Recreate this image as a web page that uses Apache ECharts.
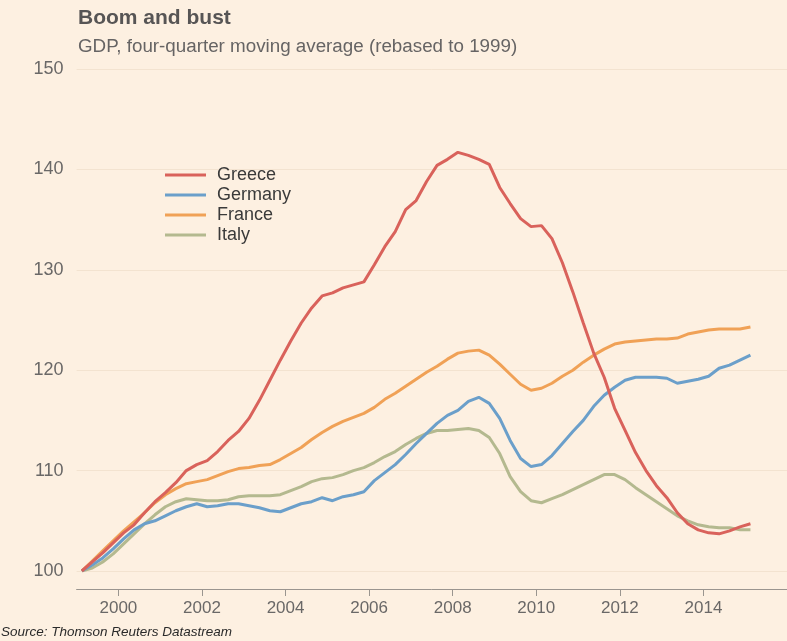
<!DOCTYPE html>
<html>
<head>
<meta charset="utf-8">
<script src="https://cdn.jsdelivr.net/npm/echarts@6/dist/echarts.min.js"></script>
<style>
html,body{margin:0;padding:0;background:#fdf0e1;}
#chart{width:787px;height:641px;}
</style>
</head>
<body>
<div id="chart"></div>
<script>
const quarters = [
 '1999Q1','1999Q2','1999Q3','1999Q4','2000Q1','2000Q2','2000Q3','2000Q4',
 '2001Q1','2001Q2','2001Q3','2001Q4','2002Q1','2002Q2','2002Q3','2002Q4',
 '2003Q1','2003Q2','2003Q3','2003Q4','2004Q1','2004Q2','2004Q3','2004Q4',
 '2005Q1','2005Q2','2005Q3','2005Q4','2006Q1','2006Q2','2006Q3','2006Q4',
 '2007Q1','2007Q2','2007Q3','2007Q4','2008Q1','2008Q2','2008Q3','2008Q4',
 '2009Q1','2009Q2','2009Q3','2009Q4','2010Q1','2010Q2','2010Q3','2010Q4',
 '2011Q1','2011Q2','2011Q3','2011Q4','2012Q1','2012Q2','2012Q3','2012Q4',
 '2013Q1','2013Q2','2013Q3','2013Q4','2014Q1','2014Q2','2014Q3','2014Q4',
 '2015Q1'
];
const greece = [
 100.0,100.9,101.8,102.8,103.8,104.6,105.8,106.9,
 107.8,108.8,110.0,110.6,111.0,111.9,113.0,113.9,
 115.2,117.0,119.0,121.0,122.9,124.7,126.2,127.4,
 127.7,128.2,128.5,128.8,130.5,132.3,133.8,136.0,
 136.9,138.8,140.4,141.0,141.7,141.4,141.0,140.5,
 138.2,136.6,135.1,134.3,134.4,133.1,130.7,127.8,
 124.7,121.7,119.3,116.2,114.0,111.8,110.0,108.5,
 107.3,105.8,104.7,104.1,103.8,103.7,104.0,104.4,
 104.7
];
const germany = [
 100.0,100.6,101.3,102.2,103.2,104.1,104.7,105.0,
 105.5,106.0,106.4,106.7,106.4,106.5,106.7,106.7,
 106.5,106.3,106.0,105.9,106.3,106.7,106.9,107.3,
 107.0,107.4,107.6,107.9,109.0,109.8,110.6,111.6,
 112.7,113.7,114.7,115.5,116.0,116.9,117.3,116.7,
 115.2,113.0,111.2,110.4,110.6,111.5,112.7,113.9,
 115.0,116.4,117.5,118.3,119.0,119.3,119.3,119.3,
 119.2,118.7,118.9,119.1,119.4,120.2,120.5,121.0,
 121.5
];
const france = [
 100.0,101.0,102.0,103.0,104.0,104.9,105.8,106.8,
 107.6,108.2,108.7,108.9,109.1,109.5,109.9,110.2,
 110.3,110.5,110.6,111.1,111.7,112.3,113.1,113.8,
 114.4,114.9,115.3,115.7,116.3,117.1,117.7,118.4,
 119.1,119.8,120.4,121.1,121.7,121.9,122.0,121.5,
 120.6,119.6,118.6,118.0,118.2,118.7,119.4,120.0,
 120.8,121.5,122.1,122.6,122.8,122.9,123.0,123.1,
 123.1,123.2,123.6,123.8,124.0,124.1,124.1,124.1,
 124.3
];
const italy = [
 100.0,100.3,100.9,101.7,102.7,103.7,104.7,105.6,
 106.4,106.9,107.2,107.1,107.0,107.0,107.1,107.4,
 107.5,107.5,107.5,107.6,108.0,108.4,108.9,109.2,
 109.3,109.6,110.0,110.3,110.8,111.4,111.9,112.6,
 113.2,113.7,114.0,114.0,114.1,114.2,114.0,113.3,
 111.7,109.4,107.9,107.0,106.8,107.2,107.6,108.1,
 108.6,109.1,109.6,109.6,109.1,108.3,107.6,106.9,
 106.2,105.5,105.0,104.6,104.4,104.3,104.3,104.1,
 104.1
];
const seriesNames = ['Greece','Germany','France','Italy'];
const seriesData = [greece, germany, france, italy];
const seriesColors = ['#d9625b','#6b9fca','#f0a156','#b4b98f'];
const xTickYears = [2000,2002,2004,2006,2008,2010,2012,2014];

function qToX(q){
  const y = parseInt(q.slice(0,4),10);
  const n = parseInt(q.slice(5),10);
  return y + (n-1)/4 + 0.125;
}

const chart = echarts.init(document.getElementById('chart'), null, {renderer:'canvas'});
const FONT = '"Liberation Sans", Arial, sans-serif';

chart.setOption({
  backgroundColor:'#fdf0e1',
  animation:false,
  title:[
    {text:'Boom and bust', left:73, top:3,
     textStyle:{fontFamily:FONT, fontSize:21, fontWeight:'bold', color:'#575555'}},
    {text:'GDP, four-quarter moving average (rebased to 1999)', left:73, top:32,
     textStyle:{fontFamily:FONT, fontSize:18.8, fontWeight:'normal', color:'#666464'}},
    {text:'Source: Thomson Reuters Datastream', left:-4, top:620,
     textStyle:{fontFamily:FONT, fontSize:13.5, fontStyle:'italic', fontWeight:'normal', color:'#2a2a2a'}}
  ],
  legend:{
    orient:'vertical', left:160, top:161, itemWidth:41, itemHeight:3, itemGap:2,
    icon:'rect',
    textStyle:{fontFamily:FONT, fontSize:18, color:'#3a3a3a', padding:[0,0,0,6]},
    data:seriesNames
  },
  grid:{left:76.6, right:0, top:69, bottom:70, containLabel:false},
  xAxis:{
    type:'value', min:1999, max:2016, offset:18,
    axisLine:{show:true, lineStyle:{color:'#9a958f', width:1}},
    axisTick:{show:true, length:7, lineStyle:{color:'#9a958f'}, customValues:xTickYears},
    axisLabel:{customValues:xTickYears, fontFamily:FONT, fontSize:17, color:'#6a6867', margin:11,
      formatter:v=>String(v)},
    splitLine:{show:false}
  },
  yAxis:{
    type:'value', min:100, max:150, interval:10,
    axisLine:{show:false}, axisTick:{show:false},
    axisLabel:{fontFamily:FONT, fontSize:18, color:'#6a6867', margin:13},
    splitLine:{show:true, lineStyle:{color:'#f3e3d0', width:1}}
  },
  series: seriesNames.map((name,i)=>({
    name, type:'line', showSymbol:false, symbol:'none',
    data: quarters.map((q,k)=>[qToX(q), seriesData[i][k]]),
    lineStyle:{color:seriesColors[i], width:3},
    itemStyle:{color:seriesColors[i]},
    z: 10-i
  }))
});
</script>
</body>
</html>
